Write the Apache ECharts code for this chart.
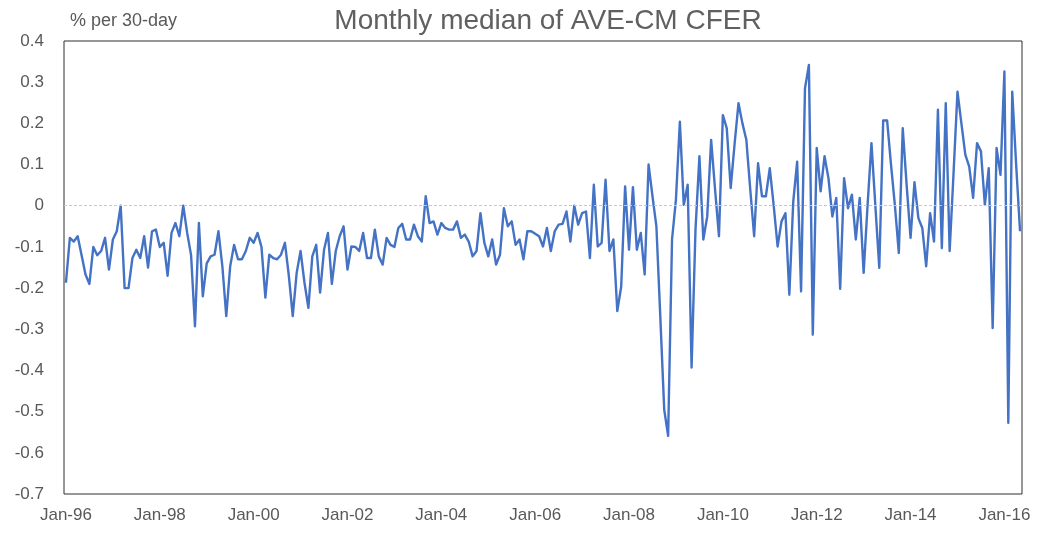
<!DOCTYPE html>
<html>
<head>
<meta charset="utf-8">
<title>Monthly median of AVE-CM CFER</title>
<script src="https://cdn.jsdelivr.net/npm/echarts@6/dist/echarts.min.js"></script>
<style>
  html, body { margin: 0; padding: 0; background: #fff; }
  #chart { width: 1041px; height: 538px; }
</style>
</head>
<body>
<div id="chart"></div>
<script>
// monthly values, Jan-96 .. May-16 (% per 30-day)
const cferMedian = [
  -0.187, -0.078, -0.087, -0.074, -0.12, -0.167, -0.19, -0.10, -0.12, -0.11, -0.078, -0.155,
  -0.082, -0.062, 0.0, -0.2, -0.2, -0.127, -0.107, -0.127, -0.074, -0.15, -0.062, -0.058,
  -0.10, -0.09, -0.17, -0.066, -0.042, -0.074, 0.0, -0.066, -0.12, -0.293, -0.042, -0.22,
  -0.14, -0.123, -0.119, -0.062, -0.147, -0.268, -0.147, -0.095, -0.13, -0.13, -0.11, -0.078,
  -0.09, -0.066, -0.10, -0.223, -0.119, -0.127, -0.13, -0.119, -0.09, -0.17, -0.268, -0.163,
  -0.11, -0.187, -0.248, -0.123, -0.095, -0.211, -0.107, -0.066, -0.19, -0.11, -0.074, -0.05,
  -0.155, -0.099, -0.10, -0.11, -0.066, -0.127, -0.127, -0.058, -0.123, -0.143, -0.078, -0.095,
  -0.10, -0.054, -0.044, -0.082, -0.082, -0.046, -0.074, -0.087, 0.023, -0.042, -0.038, -0.07,
  -0.042, -0.054, -0.058, -0.058, -0.038, -0.078, -0.07, -0.087, -0.123, -0.11, -0.018, -0.09,
  -0.123, -0.082, -0.143, -0.119, -0.006, -0.05, -0.038, -0.095, -0.082, -0.13, -0.062, -0.062,
  -0.068, -0.074, -0.099, -0.054, -0.11, -0.062, -0.046, -0.044, -0.014, -0.087, 0.0, -0.046,
  -0.018, -0.014, -0.127, 0.051, -0.099, -0.09, 0.063, -0.11, -0.082, -0.256, -0.196, 0.047,
  -0.107, 0.045, -0.107, -0.066, -0.167, 0.1, 0.023, -0.05, -0.27, -0.495, -0.559, -0.082,
  0.015, 0.204, 0.002, 0.051, -0.393, -0.058, 0.12, -0.082, -0.026, 0.16, 0.04, -0.074,
  0.22, 0.188, 0.043, 0.15, 0.249, 0.2, 0.16, 0.04, -0.074, 0.103, 0.023, 0.023,
  0.091, 0.0, -0.099, -0.038, -0.018, -0.216, 0.01, 0.107, -0.208, 0.285, 0.342, -0.313,
  0.14, 0.035, 0.12, 0.067, -0.026, 0.019, -0.202, 0.067, -0.006, 0.027, -0.082, 0.019,
  -0.163, 0.0, 0.152, 0.0, -0.151, 0.207, 0.207, 0.1, 0.0, -0.115, 0.188, 0.05,
  -0.078, 0.057, -0.03, -0.054, -0.147, -0.018, -0.087, 0.233, -0.103, 0.249, -0.11, 0.08,
  0.277, 0.2, 0.124, 0.095, 0.019, 0.152, 0.132, 0.002, 0.091, -0.297, 0.14, 0.075,
  0.326, -0.527, 0.277, 0.1, -0.062
];

const monthNames = ['Jan', 'Feb', 'Mar', 'Apr', 'May', 'Jun', 'Jul', 'Aug', 'Sep', 'Oct', 'Nov', 'Dec'];
const startYear = 1996;
const months = cferMedian.map((v, i) => {
  const yr = (startYear + Math.floor(i / 12)) % 100;
  return monthNames[i % 12] + '-' + String(yr).padStart(2, '0');
});

const yTicks = { min: -0.7, max: 0.4, step: 0.1 };

const labelFont = 'Liberation Sans, Arial, sans-serif';
const textGrey = '#595959';

const chart = echarts.init(document.getElementById('chart'));

chart.setOption({
  animation: false,
  backgroundColor: '#fff',
  title: {
    text: 'Monthly median of AVE-CM CFER',
    left: 543,
    top: 2,
    textAlign: 'center',
    textStyle: { fontFamily: labelFont, fontSize: 28, fontWeight: 'normal', color: '#606060' }
  },
  grid: {
    left: 64, right: 19, top: 41, bottom: 44,
    show: true, borderColor: '#2e2e2e', borderWidth: 1, backgroundColor: 'transparent'
  },
  xAxis: {
    type: 'category',
    data: months,
    boundaryGap: true,
    axisLine: { show: false },
    axisTick: { show: false },
    splitLine: { show: false },
    axisLabel: {
      interval: 23,
      margin: 13,
      fontFamily: labelFont, fontSize: 17, color: textGrey
    }
  },
  yAxis: {
    type: 'value',
    min: yTicks.min,
    max: yTicks.max,
    interval: yTicks.step,
    name: '% per 30-day',
    nameLocation: 'end',
    nameGap: 11,
    nameTextStyle: { align: 'left', padding: [0, 0, 0, 6], fontFamily: labelFont, fontSize: 18, color: textGrey },
    axisLine: { show: false },
    axisTick: { show: false },
    splitLine: { show: false },
    axisLabel: {
      margin: 20,
      fontFamily: labelFont, fontSize: 17, color: textGrey,
      formatter: v => String(parseFloat(v.toFixed(1)))
    }
  },
  series: [{
    type: 'line',
    data: cferMedian,
    showSymbol: false,
    lineStyle: { color: '#4472C4', width: 2.4, join: 'round' },
    itemStyle: { color: '#4472C4' },
    emphasis: { disabled: true },
    markLine: {
      silent: true,
      symbol: ['none', 'none'],
      label: { show: false },
      lineStyle: { color: '#c8c8c8', type: [3, 2], width: 1 },
      data: [{ yAxis: 0 }]
    }
  }]
});

window.addEventListener('resize', () => chart.resize());
</script>
</body>
</html>
